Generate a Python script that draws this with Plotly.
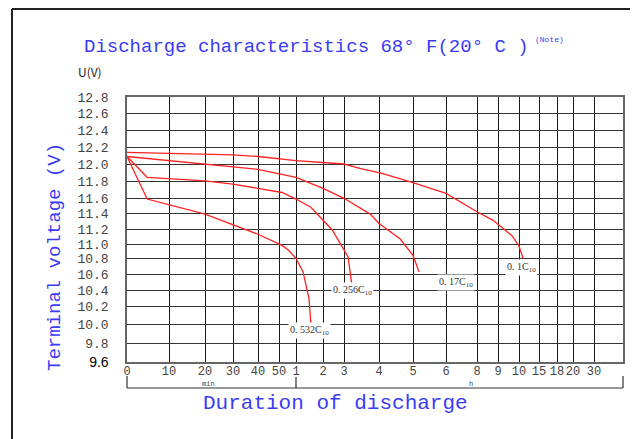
import numpy as np
import plotly.graph_objects as go

# ---------------- data ----------------
# duration of discharge in minutes, terminal voltage in volts
t_01C = [0, 30, 40, 60, 180, 207, 242, 300, 360, 480, 526, 580, 600, 660]
v_01C = [12.14, 12.11, 12.09, 12.04, 12.00, 11.95, 11.90, 11.79, 11.66, 11.42, 11.31, 11.11, 10.97, 10.80]

t_017C = [0, 10, 30, 40, 60, 120, 180, 225, 240, 277, 300, 311]
v_017C = [12.09, 12.04, 11.97, 11.94, 11.85, 11.72, 11.60, 11.39, 11.27, 11.07, 10.84, 10.63]

t_0256C = [0, 4.8, 20, 30, 40, 51.8, 60, 93, 146, 180, 187, 194]
v_0256C = [12.09, 11.85, 11.81, 11.77, 11.72, 11.67, 11.59, 11.48, 11.19, 10.92, 10.82, 10.44]

t_0532C = [0, 4.8, 20, 40, 51.8, 55.3, 60, 75.6, 88.9, 93]
v_0532C = [12.09, 11.59, 11.39, 11.13, 10.98, 10.92, 10.80, 10.63, 10.30, 10.01]

curve_names = ["0. 1C<sub>10</sub>", "0. 17C<sub>10</sub>", "0. 256C<sub>10</sub>", "0. 532C<sub>10</sub>"]
label_t = [630, 399, 195, 88.9]
label_v = [10.69, 10.49, 10.40, 9.93]

# x tick labels (minutes, then hours)
tick_minutes = [0, 10, 20, 30, 40, 50, 60, 120, 180, 240, 300, 360, 480, 540, 600, 900, 1080, 1200, 1800]
tick_text_x = ["0", "10", "20", "30", "40", "50", "1", "2", "3", "4", "5", "6", "8", "9", "10", "15", "18", "20", "30"]

volt_ticks = [9.6, 9.8, 10.0, 10.2, 10.4, 10.6, 10.8, 11.0, 11.2, 11.4, 11.6, 11.8, 12.0, 12.2, 12.4, 12.6, 12.8]

# ---------------- chart's own (non-uniform) scales ----------------
X_SCALE_POS = [0, 42, 78, 106, 131, 152, 169, 196, 217, 252, 286, 319, 350, 371, 392, 412, 430, 446, 467]
X_RANGE = [0, 496]
Y_SCALE_POS = [0, 18.7, 37.7, 55.3, 72, 87.7, 103.7, 118, 133, 148.7, 163.7, 180.3, 198, 214.7, 232, 248.7, 265]
Y_RANGE = [0, 265]


def xs(t):
    return np.interp(np.asarray(t, float), tick_minutes, X_SCALE_POS)


def ys(v):
    return np.interp(np.asarray(v, float), volt_ticks, Y_SCALE_POS)


BLUE = "#3b3bf2"
MONO = "Liberation Mono"
SERIF = "Liberation Serif"

fig = go.Figure()
for t, v in [(t_01C, v_01C), (t_017C, v_017C), (t_0256C, v_0256C), (t_0532C, v_0532C)]:
    fig.add_trace(go.Scatter(x=xs(t), y=ys(v), mode="lines",
                             line=dict(color="#ff2222", width=1.3),
                             showlegend=False, hoverinfo="skip"))

# page has an 8px body margin: figure drawn at (8, 8)
OFF = 8
W, H = 638 - OFF, 439 - OFF
L, T = 127, 97           # target pixel position of plot area
pw, ph = 496, 265
ml, mt = L - OFF, T - OFF
mr, mb = W - ml - pw, H - mt - ph


def px(xp):
    return (xp - L) / pw


def py(yp):
    return (T + ph - yp) / ph


annotations = []
for name, t, v in zip(curve_names, label_t, label_v):
    annotations.append(dict(x=float(xs(t)), y=float(ys(v)), xref="x", yref="y", text=name,
                            showarrow=False, bgcolor="white", borderpad=1,
                            font=dict(family=SERIF, size=10, color="#333")))

annotations += [
    dict(x=px(82), y=py(47), xref="paper", yref="paper", xanchor="left", yanchor="middle",
         text="Discharge characteristics 68° F(20° C )", showarrow=False,
         font=dict(family=MONO, size=19, color=BLUE)),
    dict(x=px(533), y=py(39), xref="paper", yref="paper", xanchor="left", yanchor="middle",
         text="(Note)", showarrow=False, font=dict(family=MONO, size=8, color=BLUE)),
    dict(x=px(76), y=py(71), xref="paper", yref="paper", xanchor="left", yanchor="middle",
         text="U(V)", showarrow=False, font=dict(family="Noto Sans CJK SC", size=12, color="#222")),
    dict(x=px(55), y=py(257), xref="paper", yref="paper", xanchor="center", yanchor="middle",
         text="Terminal voltage (V)", textangle=-90, showarrow=False,
         font=dict(family=MONO, size=19, color=BLUE)),
    dict(x=px(335), y=py(403), xref="paper", yref="paper", xanchor="center", yanchor="middle",
         text="Duration of discharge", showarrow=False,
         font=dict(family=MONO, size=21, color=BLUE)),
    dict(x=px(208), y=py(383.5), xref="paper", yref="paper", xanchor="center", yanchor="middle",
         text="min", showarrow=False, font=dict(family=MONO, size=7, color="#444")),
    dict(x=px(471), y=py(383.5), xref="paper", yref="paper", xanchor="center", yanchor="middle",
         text="h", showarrow=False, font=dict(family=MONO, size=7, color="#444")),
]

frame = dict(color="#222", width=2)
brk = dict(color="#333", width=1.2)
shapes = [
    dict(type="line", xref="paper", yref="paper", x0=px(12), x1=px(12), y0=py(9), y1=py(445), line=frame),
    dict(type="line", xref="paper", yref="paper", x0=px(12), x1=px(632), y0=py(9), y1=py(9), line=frame),
    dict(type="line", xref="paper", yref="paper", x0=px(632), x1=px(632), y0=py(9), y1=py(445), line=frame),
    dict(type="line", xref="paper", yref="paper", x0=px(632), x1=px(632), y0=py(9), y1=py(23),
         line=dict(color="#222", width=3)),
    dict(type="line", xref="paper", yref="paper", x0=0, x1=1, y0=py(388), y1=py(388), line=brk),
    dict(type="line", xref="paper", yref="paper", x0=0, x1=0, y0=py(376), y1=py(388), line=brk),
    dict(type="line", xref="paper", yref="paper", x0=1, x1=1, y0=py(376), y1=py(388), line=brk),
    dict(type="line", xref="x", yref="paper", x0=float(xs(60)), x1=float(xs(60)), y0=py(377), y1=py(388), line=brk),
]

ytext = [f"{v:.1f}" for v in volt_ticks]
ytext[0] = "<span style='font-family:Liberation Sans; font-size:14px; fill:#000'>9.6</span>"

fig.update_layout(
    width=W, height=H, margin=dict(l=ml, r=mr, t=mt, b=mb, pad=0),
    paper_bgcolor="white", plot_bgcolor="white",
    showlegend=False,
    annotations=annotations, shapes=shapes,
    xaxis=dict(range=X_RANGE, tickmode="array", tickvals=X_SCALE_POS, ticktext=tick_text_x,
               showgrid=True, gridcolor="#1a1a1a", gridwidth=1, zeroline=False,
               showline=True, mirror=True, linecolor="#666", linewidth=1.5,
               ticks="", tickangle=0, ticklabelstandoff=-3,
               tickfont=dict(family=MONO, size=12, color="#444"),
               fixedrange=True),
    yaxis=dict(range=Y_RANGE, tickmode="array", tickvals=Y_SCALE_POS, ticktext=ytext,
               showgrid=True, gridcolor="#333", gridwidth=1.2, zeroline=False,
               showline=True, mirror=True, linecolor="#666", linewidth=1.5,
               ticks="", ticklabelstandoff=14,
               tickfont=dict(family=MONO, size=13, color="#444"),
               fixedrange=True),
)

fig.write_html("out.html")
